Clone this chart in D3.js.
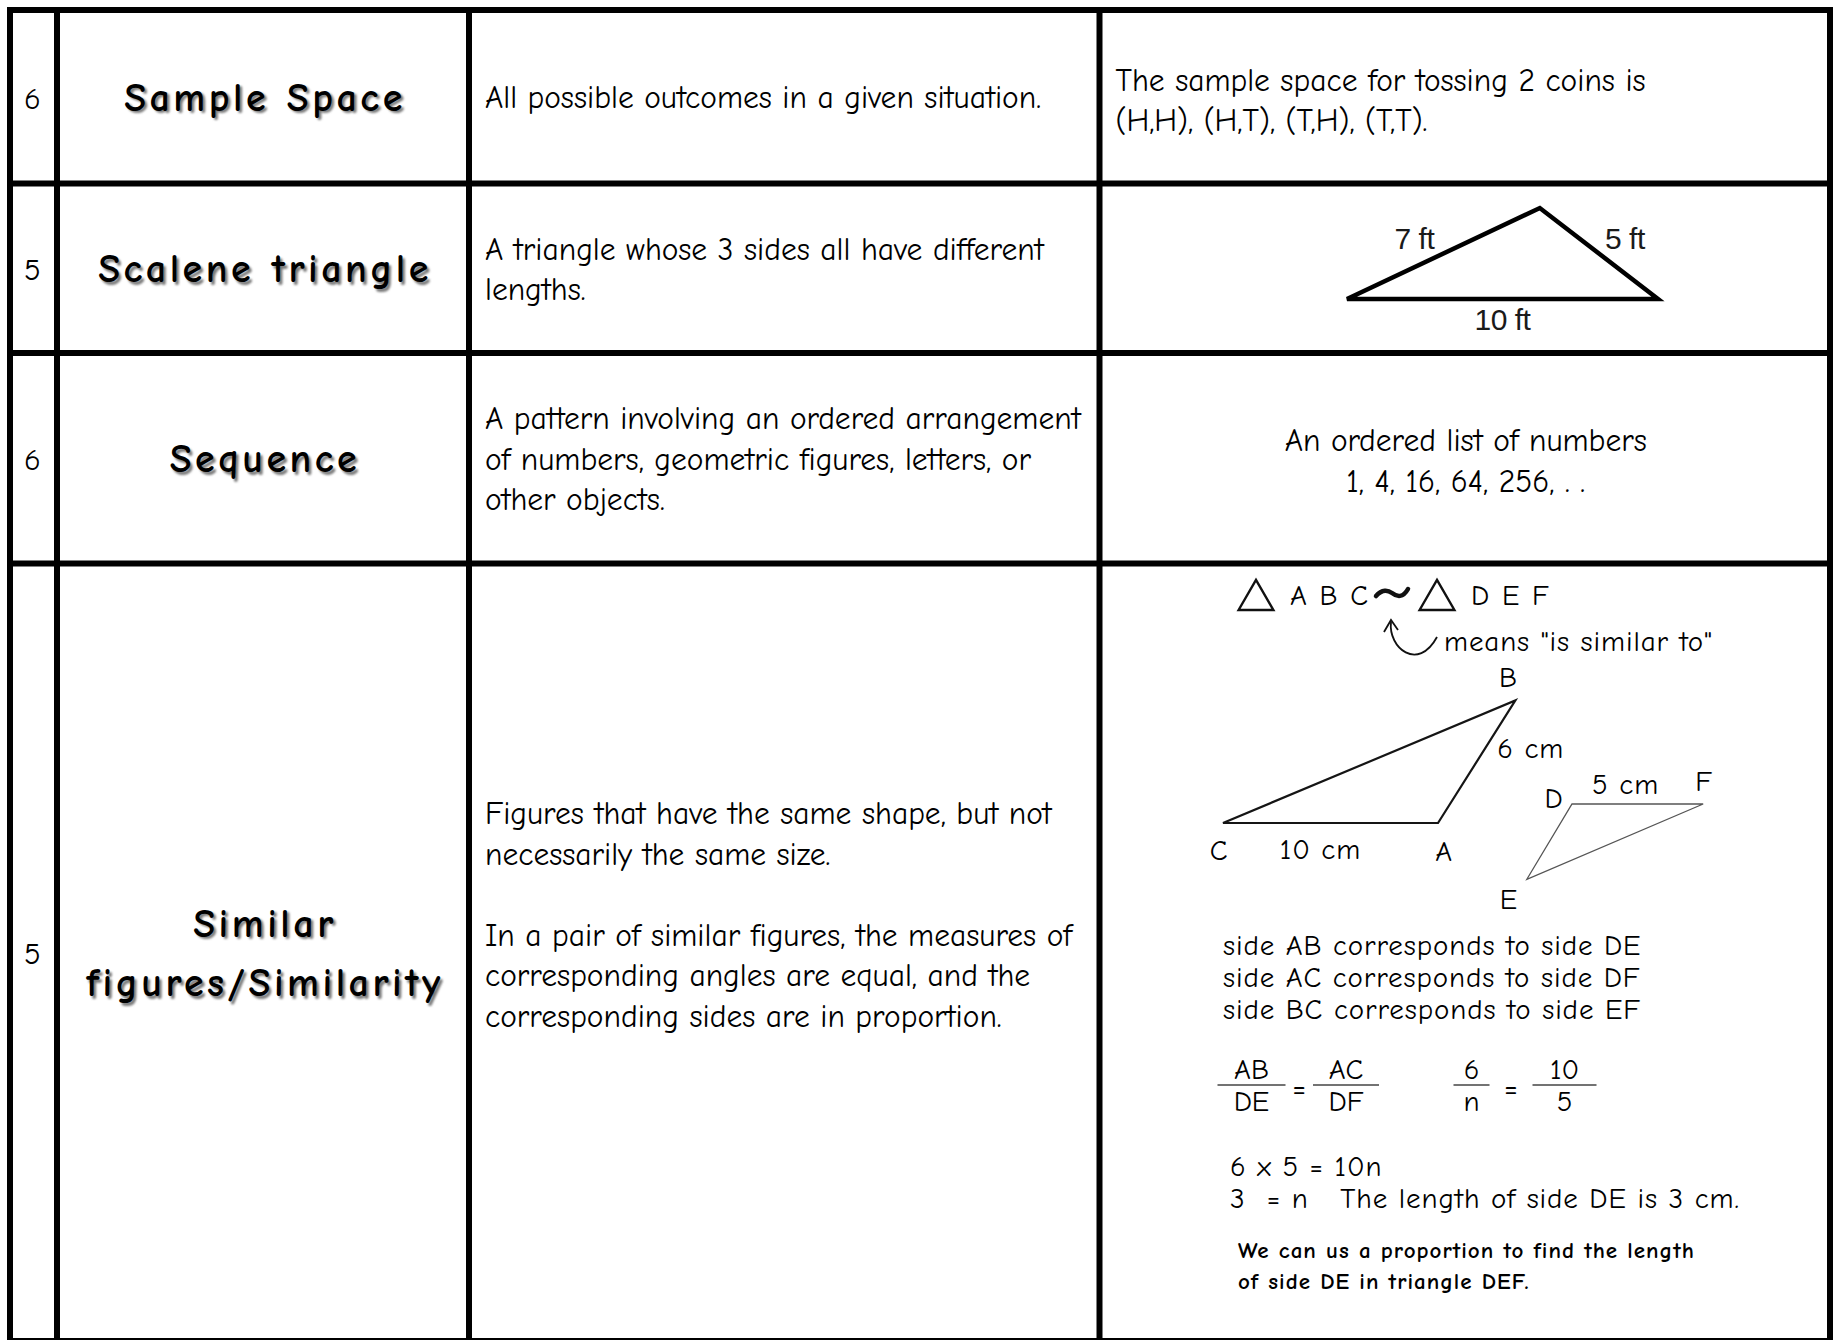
<!DOCTYPE html>
<html>
<head>
<meta charset="utf-8">
<script src="https://cdn.jsdelivr.net/npm/d3@7"></script>
<style>
  html, body { margin: 0; padding: 0; background: #fff; }
  svg { display: block; }
  text { white-space: pre; }
</style>
</head>
<body>
<div id="chart"></div>
<script>
// ---- table content ----
const rowNumbers = ["6", "5", "6", "5"];
const terms = [["Sample Space"], ["Scalene triangle"], ["Sequence"], ["Similar", "figures/Similarity"]];
const definitions = [
  ["All possible outcomes in a given situation."],
  ["A triangle whose 3 sides all have different", "lengths."],
  ["A pattern involving an ordered arrangement", "of numbers, geometric figures, letters, or", "other objects."],
  ["Figures that have the same shape, but not", "necessarily the same size.", "",
   "In a pair of similar figures, the measures of", "corresponding angles are equal, and the",
   "corresponding sides are in proportion.", "", ""]
];
const sampleSpaceExample = ["The sample space for tossing 2 coins is", "(H,H), (H,T), (T,H), (T,T)."];
const sequenceExample = ["An ordered list of numbers", "1, 4, 16, 64, 256, . ."];

// scalene triangle: base, left side, right side (ft)
const scaleneSides = [10, 7, 5];
const scaleneLabels = ["10 ft", "7 ft", "5 ft"];

// similar triangles, vertices (cm)
const triABC = [{ n: "C", x: 0, y: 0 }, { n: "A", x: 10, y: 0 }, { n: "B", x: 13.6, y: 5.7 }];
const triDEF = [{ n: "D", x: 0, y: 0 }, { n: "F", x: 6.1, y: 0 }, { n: "E", x: -2.1, y: -3.5 }];
const sideLabelsABC = ["10 cm", "6 cm"];
const sideLabelsDEF = ["5 cm"];
const similarNames = ["A B C", "D E F"];
const similarNote = "means \"is similar to\"";
const correspondences = [["AB", "DE"], ["AC", "DF"], ["BC", "EF"]];
const proportions = [[["AB", "DE"], ["AC", "DF"]], [["6", "n"], ["10", "5"]]];
const solution = ["6 x 5 = 10n", "3  = n   The length of side DE is 3 cm."];
const note = ["We can us a proportion to find the length", "of side DE in triangle DEF."];

// ---- layout ----
const W = 1833, H = 1340;
const colEdges = [10, 57, 469, 1099.5, 1830];
const rowEdges = [10, 183.5, 353, 563.5, 1341];
const bodyFont = '"Comic Sans MS", "Comic Neue", "DejaVu Sans", sans-serif';
const handFont = bodyFont;
const bodySize = 31.5, lineH = 40.5;

const rowMid = i => (rowEdges[i] + rowEdges[i + 1]) / 2;
const colMid = i => (colEdges[i] + colEdges[i + 1]) / 2;

const svg = d3.select("#chart").append("svg")
  .attr("width", W)
  .attr("height", H);

svg.append("rect").attr("width", W).attr("height", H).attr("fill", "#fff");

const defs = svg.append("defs");
defs.append("filter").attr("id", "soft")
  .append("feGaussianBlur").attr("stdDeviation", 0.9);

function textBlock(g, lines, x, cy, lh, opts) {
  const n = lines.length;
  lines.forEach((t, i) => {
    if (!t) return;
    g.append("text")
      .attr("x", x)
      .attr("y", cy + (i - (n - 1) / 2) * lh)
      .attr("dy", "0.35em")
      .attr("text-anchor", opts.anchor || "start")
      .style("font-family", opts.font || bodyFont)
      .style("font-size", (opts.size || bodySize) + "px")
      .style("font-weight", opts.weight || "normal")
      .style("letter-spacing", opts.spacing || "normal")
      .attr("fill", opts.fill || "#000")
      .attr("filter", opts.filter || null)
      .text(t);
  });
}

// ---- cell text ----
const cells = svg.append("g");

rowNumbers.forEach((d, i) => {
  textBlock(cells, [d], colMid(0) - 1, rowMid(i) + 1, lineH, { anchor: "middle", size: 31 });
});

const headStyle = { anchor: "middle", size: 40, weight: "bold", spacing: "3.5px" };
terms.forEach((d, i) => {
  textBlock(cells, d, colMid(1) + 4.5, rowMid(i) + 2.5, 59.5,
    Object.assign({}, headStyle, { fill: "#7a7a7a", filter: "url(#soft)" }));
  textBlock(cells, d, colMid(1) + 2, rowMid(i), 59.5, headStyle);
});

definitions.forEach((d, i) => {
  textBlock(cells, d, colEdges[2] + 16, rowMid(i) + (i === 3 ? 2.5 : 0.5), lineH, {});
});

textBlock(cells, sampleSpaceExample, colEdges[3] + 16, rowMid(0) + 3, lineH, {});
textBlock(cells, sequenceExample, colMid(3) + 1, rowMid(2) + 2, lineH, { anchor: "middle" });

// ---- scalene triangle ----
const [base, leftSide, rightSide] = scaleneSides;
const apexX = (base * base + leftSide * leftSide - rightSide * rightSide) / (2 * base);
const apexH = Math.sqrt(leftSide * leftSide - apexX * apexX);
const ftX = d3.scaleLinear().domain([0, base]).range([1347, 1658]);
const ftY = d3.scaleLinear().domain([0, apexH]).range([299, 208]);
const scalenePts = [[0, 0], [apexX, apexH], [base, 0]];

svg.append("path")
  .attr("d", d3.line().x(d => ftX(d[0])).y(d => ftY(d[1])).curve(d3.curveLinearClosed)(scalenePts))
  .attr("fill", "none")
  .attr("stroke", "#000")
  .attr("stroke-width", 4.5)
  .attr("stroke-linejoin", "miter");

const scaleneLabelPos = [
  [ftX(base / 2), ftY(0) + 20],
  [ftX(apexX / 2) - 29, ftY(apexH / 2) - 15],
  [ftX((apexX + base) / 2) + 26, ftY(apexH / 2) - 15]
];
scaleneLabels.forEach((t, i) => {
  svg.append("text")
    .attr("x", scaleneLabelPos[i][0])
    .attr("y", scaleneLabelPos[i][1])
    .attr("dy", "0.35em")
    .attr("text-anchor", "middle")
    .style("font-family", '"Liberation Sans Narrow", "Liberation Sans", Arial, sans-serif')
    .style("font-size", "30px")
    .style("letter-spacing", "-0.5px")
    .attr("fill", "#1a1a1a")
    .text(t);
});

// ---- similarity diagram ----
const diag = svg.append("g");
const hand = { font: handFont, size: 29, spacing: "0.9px" };
const handMid = Object.assign({}, hand, { anchor: "middle" });

// "triangle ABC ~ triangle DEF"
const symSize = 30;
[1256, 1437].forEach((cx, i) => {
  const tri = d3.scaleLinear().domain([0, 1]).range([0, symSize]);
  const pts = [[-0.58, 0.5], [0, -0.5], [0.58, 0.5]];
  diag.append("path")
    .attr("d", d3.line().x(d => cx + tri(d[0])).y(d => 595 + tri(d[1])).curve(d3.curveLinearClosed)(pts))
    .attr("fill", "none")
    .attr("stroke", "#111")
    .attr("stroke-width", 2.4);
  textBlock(diag, [similarNames[i]], cx + 34, 595, lineH, Object.assign({}, hand, { spacing: "1.5px" }));
});
diag.append("path")
  .attr("d", "M1376,596 C1382,589 1388,590 1392,593 C1397,597 1403,598 1408,589")
  .attr("fill", "none")
  .attr("stroke", "#111")
  .attr("stroke-width", 4.5)
  .attr("stroke-linecap", "round");

// curved arrow for "means is similar to"
diag.append("path")
  .attr("d", "M1391,622 C1388,648 1418,672 1437,637")
  .attr("fill", "none")
  .attr("stroke", "#111")
  .attr("stroke-width", 1.8);
diag.append("path")
  .attr("d", "M1384,632 L1391,620 L1398,630")
  .attr("fill", "none")
  .attr("stroke", "#111")
  .attr("stroke-width", 1.8);
textBlock(diag, [similarNote], 1444, 641, lineH, hand);

// triangle ABC
const abcX = d3.scaleLinear().domain([0, 10]).range([1223, 1438]);
const abcY = d3.scaleLinear().domain([0, 10]).range([823, 608]);
diag.append("path")
  .attr("d", d3.line().x(d => abcX(d.x)).y(d => abcY(d.y)).curve(d3.curveLinearClosed)(triABC))
  .attr("fill", "none")
  .attr("stroke", "#151515")
  .attr("stroke-width", 2.2);

// triangle DEF
const defX = d3.scaleLinear().domain([0, 10]).range([1572, 1787]);
const defY = d3.scaleLinear().domain([0, 10]).range([804, 589]);
diag.append("path")
  .attr("d", d3.line().x(d => defX(d.x)).y(d => defY(d.y)).curve(d3.curveLinearClosed)(triDEF))
  .attr("fill", "none")
  .attr("stroke", "#555")
  .attr("stroke-width", 1.3);

const vertexOffset = { C: [-4, 27], A: [6, 28], B: [-7, -24], D: [-18, -6], F: [1, -23], E: [-18, 20] };
triABC.forEach(v => {
  textBlock(diag, [v.n], abcX(v.x) + vertexOffset[v.n][0], abcY(v.y) + vertexOffset[v.n][1], lineH, handMid);
});
triDEF.forEach(v => {
  textBlock(diag, [v.n], defX(v.x) + vertexOffset[v.n][0], defY(v.y) + vertexOffset[v.n][1], lineH, handMid);
});

// side labels at side midpoints
const mid = (a, b, sx, sy) => [(sx(a.x) + sx(b.x)) / 2, (sy(a.y) + sy(b.y)) / 2];
const ca = mid(triABC[0], triABC[1], abcX, abcY);
const ab = mid(triABC[1], triABC[2], abcX, abcY);
const df = mid(triDEF[0], triDEF[1], defX, defY);
textBlock(diag, [sideLabelsABC[0]], ca[0] - 10, ca[1] + 26, lineH, handMid);
textBlock(diag, [sideLabelsABC[1]], ab[0] + 54, ab[1] - 14, lineH, handMid);
textBlock(diag, [sideLabelsDEF[0]], df[0] - 12, df[1] - 20, lineH, handMid);

// correspondences
textBlock(diag, correspondences.map(d => `side ${d[0]} corresponds to side ${d[1]}`), 1223, 977, 32.3, hand);

// proportions
const fracX = [[1251.5, 1346], [1471.5, 1564.5]];
const fracHalf = [[34, 33], [18, 32]];
proportions.forEach((pair, p) => {
  pair.forEach((f, k) => {
    const cx = fracX[p][k];
    diag.append("line")
      .attr("x1", cx - fracHalf[p][k]).attr("x2", cx + fracHalf[p][k])
      .attr("y1", 1085).attr("y2", 1085)
      .attr("stroke", "#444").attr("stroke-width", 1.6);
    textBlock(diag, [f[0]], cx, 1069, lineH, Object.assign({}, handMid, { spacing: "0px" }));
    textBlock(diag, [f[1]], cx, 1101, lineH, Object.assign({}, handMid, { spacing: "0px" }));
  });
  textBlock(diag, ["="], (fracX[p][0] + fracHalf[p][0] + fracX[p][1] - fracHalf[p][1]) / 2, 1087, lineH,
    { anchor: "middle", font: handFont, size: 30 });
});

textBlock(diag, solution, 1230, 1182, 32.5, hand);
textBlock(diag, note, 1238, 1265.5, 31, { font: handFont, size: 23, spacing: "1px", weight: "bold" });

// ---- grid lines ----
const grid = svg.append("g")
  .attr("stroke", "#000")
  .attr("stroke-width", 6)
  .attr("stroke-linecap", "square");

grid.selectAll(".vline")
  .data(colEdges)
  .enter().append("line")
  .attr("class", "vline")
  .attr("x1", d => d).attr("x2", d => d)
  .attr("y1", rowEdges[0]).attr("y2", rowEdges[rowEdges.length - 1]);

grid.selectAll(".hline")
  .data(rowEdges)
  .enter().append("line")
  .attr("class", "hline")
  .attr("y1", d => d).attr("y2", d => d)
  .attr("x1", colEdges[0]).attr("x2", colEdges[colEdges.length - 1]);
</script>
</body>
</html>
